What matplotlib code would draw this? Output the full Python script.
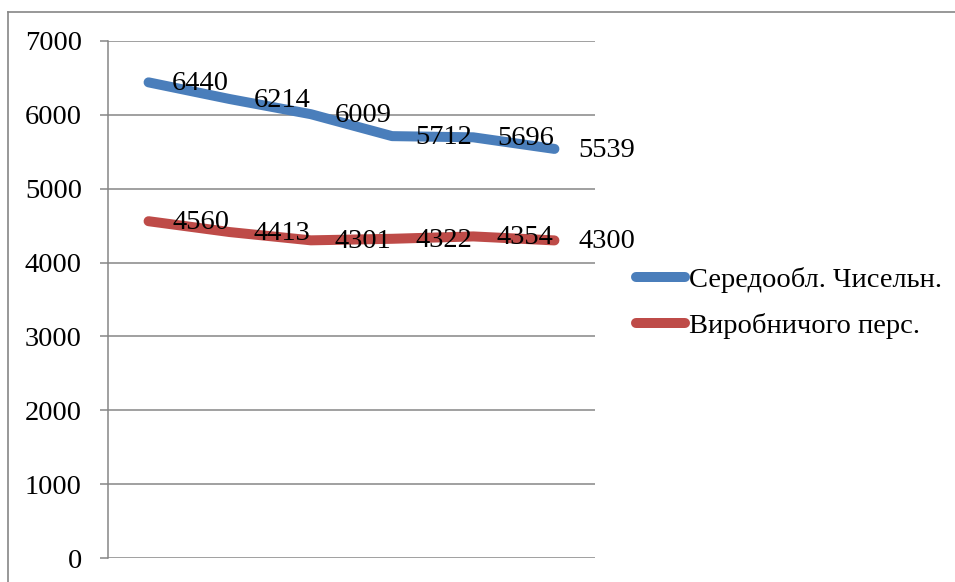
import matplotlib
matplotlib.use("Agg")
import matplotlib.pyplot as plt
from matplotlib.lines import Line2D

periods = [1, 2, 3, 4, 5, 6]
avg_headcount = [6440, 6214, 6009, 5712, 5696, 5539]
production_staff = [4560, 4413, 4301, 4322, 4354, 4300]
series_names = ["Середообл. Чисельн.", "Виробничого перс."]
y_ticks = [0, 1000, 2000, 3000, 4000, 5000, 6000, 7000]

plt.rcParams["font.family"] = ["Liberation Serif", "DejaVu Serif"]
FS = 20.5
GRAY = "#868686"
BLUE = "#4A7EBB"
RED = "#BE4B48"

W, H = 955, 582
fig = plt.figure(figsize=(W / 100, H / 100), dpi=100)
fig.patch.set_facecolor("white")

# outer chart frame: left and top edges (the rest runs off the canvas)
frame_x, frame_y = 7.5 / W, 1 - 11.5 / H
fig.add_artist(Line2D([frame_x, frame_x], [0, frame_y], transform=fig.transFigure,
                      color=GRAY, linewidth=1.2))
fig.add_artist(Line2D([frame_x, 1.01], [frame_y, frame_y], transform=fig.transFigure,
                      color=GRAY, linewidth=1.2))

ax = fig.add_axes([108 / W, 24 / H, 487 / W, 517 / H])
ax.set_xlim(0.5, 6.5)
ax.set_ylim(0, 7000)

for vals, color, name in [(avg_headcount, BLUE, series_names[0]),
                          (production_staff, RED, series_names[1])]:
    ax.plot(periods, vals, color=color, linewidth=7.2, solid_capstyle="round",
            solid_joinstyle="round", label=name, zorder=3)
    for x, v in zip(periods, vals):
        ax.annotate(f"{v}", (x, v), xytext=(17, -1), textcoords="offset points",
                    ha="left", va="center", fontsize=FS, color="black",
                    zorder=4, annotation_clip=False)

ax.set_yticks(y_ticks)
ax.set_yticklabels([str(t) for t in y_ticks], fontsize=FS)
ax.set_xticks([])
ax.yaxis.grid(True, color=GRAY, linewidth=1.1)
ax.set_axisbelow(True)
for side in ["top", "right", "bottom"]:
    ax.spines[side].set_visible(False)
ax.spines["left"].set_color(GRAY)
ax.spines["left"].set_linewidth(1.1)
ax.tick_params(axis="y", direction="out", length=5.8, width=1.1, color=GRAY,
               pad=13, labelcolor="black")

leg = ax.legend(loc="center left", bbox_to_anchor=(636 / W, 1 - 303 / H),
                bbox_transform=fig.transFigure, frameon=False, fontsize=FS,
                handlelength=1.72, handletextpad=0.15, labelspacing=0.72,
                borderpad=0, borderaxespad=0)

fig.savefig("out.png", dpi=100, facecolor="white")
